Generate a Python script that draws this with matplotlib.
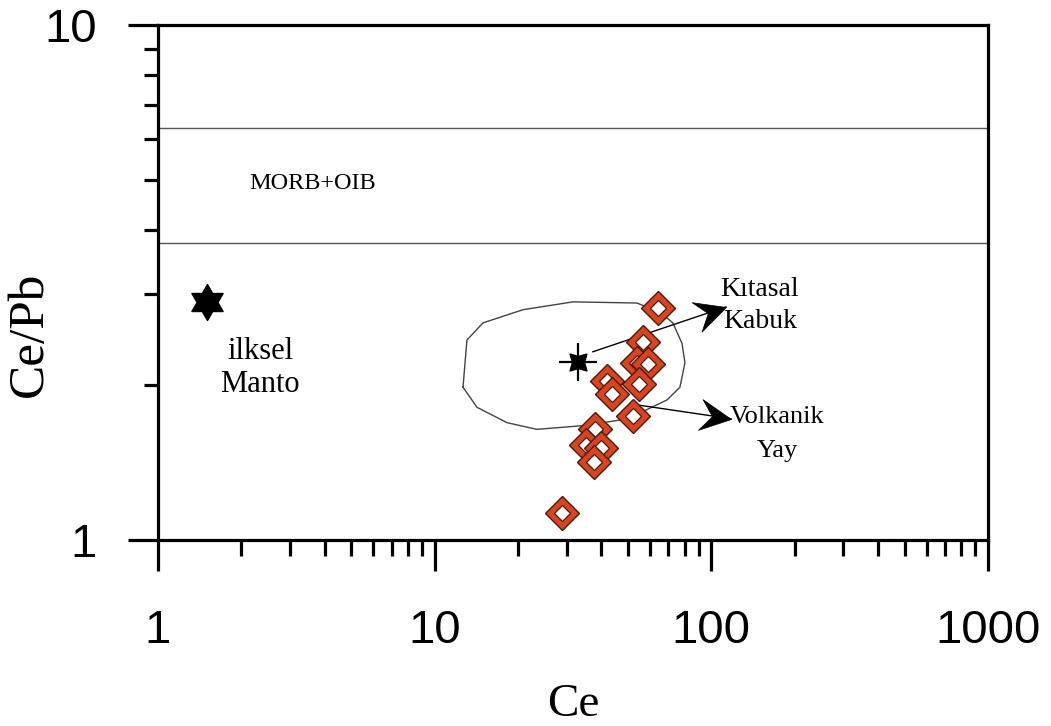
import numpy as np
import matplotlib
matplotlib.use('Agg')
import matplotlib.pyplot as plt
from matplotlib.path import Path
from matplotlib.markers import MarkerStyle
from matplotlib.transforms import Affine2D
from matplotlib.ticker import LogLocator, NullFormatter, FixedLocator, FixedFormatter

# ---------------- data ----------------
ce = [64.1, 56.6, 53.8, 59.0, 54.7, 42.0, 43.7, 52.1, 38.0, 35.2, 39.9, 37.6, 28.8]
ce_pb = [2.82, 2.42, 2.21, 2.20, 2.01, 2.04, 1.92, 1.74, 1.64, 1.53, 1.51, 1.42, 1.13]

mantle_ce, mantle_cepb = 1.50, 2.90          # ilksel Manto
crust_ce, crust_cepb = 32.9, 2.22            # star inside field
morb_oib_bounds = [3.77, 6.30]               # MORB+OIB band

field_ce = [12.66, 13.08, 14.95, 20.85, 31.6, 53.8, 65.2, 72.6, 78.3, 80.3, 77.0,
            69.1, 55.2, 46.7, 35.5, 23.4, 18.25, 14.22, 12.66]
field_cepb = [1.98, 2.445, 2.64, 2.80, 2.90, 2.885, 2.77, 2.64, 2.41, 2.21, 1.98,
              1.87, 1.765, 1.71, 1.67, 1.64, 1.69, 1.81, 1.98]

arrow_kabuk_ce = [37.3, 112.9]
arrow_kabuk_cepb = [2.32, 2.835]
arrow_yay_ce = [53.8, 117.7]
arrow_yay_cepb = [1.83, 1.72]

x_ticks = [1, 10, 100, 1000]
x_labels = ['1', '10', '100', '1000']
y_ticks = [1, 10]
y_labels = ['1', '10']

# ---------------- figure ----------------
W, H = 1051, 726
fig = plt.figure(figsize=(W / 100, H / 100), dpi=100)
fig.patch.set_facecolor('white')
ax = fig.add_axes([158 / W, 1 - 540 / H, (988 - 158) / W, (540 - 25) / H])
ax.set_xscale('log')
ax.set_yscale('log')
ax.set_xlim(1, 1000)
ax.set_ylim(1, 10)

px = 0.72  # points per pixel
for s in ax.spines.values():
    s.set_linewidth(2.3)
    s.set_color('black')

ax.xaxis.set_major_locator(FixedLocator(x_ticks))
ax.xaxis.set_major_formatter(FixedFormatter(x_labels))
ax.yaxis.set_major_locator(FixedLocator(y_ticks))
ax.yaxis.set_major_formatter(FixedFormatter(y_labels))
ax.xaxis.set_minor_locator(LogLocator(base=10, subs=np.arange(2, 10)))
ax.yaxis.set_minor_locator(LogLocator(base=10, subs=np.arange(2, 10)))
ax.xaxis.set_minor_formatter(NullFormatter())
ax.yaxis.set_minor_formatter(NullFormatter())

ax.tick_params(axis='x', which='major', direction='out', length=31 * px, width=2.3,
               pad=38 * px, labelsize=34)
ax.tick_params(axis='x', which='minor', direction='out', length=16 * px, width=2.3)
ax.tick_params(axis='y', which='major', direction='out', length=30 * px, width=2.3,
               pad=31 * px, labelsize=34)
ax.tick_params(axis='y', which='minor', direction='out', length=14 * px, width=2.3)
for lab in ax.get_xticklabels() + ax.get_yticklabels():
    lab.set_fontfamily('Liberation Sans')

serif = 'Liberation Serif'

# MORB+OIB band lines
for yv in morb_oib_bounds:
    ax.axhline(yv, color='#555555', lw=1.0, zorder=1)

# field outline
ax.plot(field_ce, field_cepb, color='#444444', lw=1.0, zorder=2)

# arrows (line + stealth head)
stealth = Path([(0, 0), (-1, 0.5), (-0.62, 0), (-1, -0.5), (0, 0)],
               [Path.MOVETO, Path.LINETO, Path.LINETO, Path.LINETO, Path.CLOSEPOLY])
for xs, ys in [(arrow_kabuk_ce, arrow_kabuk_cepb), (arrow_yay_ce, arrow_yay_cepb)]:
    ax.plot(xs, ys, color='black', lw=1.0, zorder=3)
    p0 = ax.transData.transform((xs[0], ys[0]))
    p1 = ax.transData.transform((xs[1], ys[1]))
    ang = np.degrees(np.arctan2(p1[1] - p0[1], p1[0] - p0[0]))
    m = MarkerStyle(stealth, transform=Affine2D().rotate_deg(ang))
    ax.plot([xs[1]], [ys[1]], marker=m, ms=62 * px, color='black', mew=0.5, zorder=3,
            linestyle='none')

# crust star (asterisk-like)
ax.plot([crust_ce], [crust_cepb], marker='+', ms=38 * px, mew=1.6, color='black', zorder=4,
        linestyle='none')
ax.plot([crust_ce], [crust_cepb], marker=(4, 1, 45), ms=24 * px, color='black', zorder=4,
        linestyle='none')

# primitive mantle hexagram
ang = np.radians(90 + 30 * np.arange(12))
rad = np.where(np.arange(12) % 2 == 0, 1.0, 1 / np.sqrt(3))
hexverts = list(zip(rad * np.cos(ang), rad * np.sin(ang)))
hexverts.append(hexverts[0])
hexpath = Path(hexverts, closed=True)
ax.plot([mantle_ce], [mantle_cepb], marker=hexpath, ms=36 * px, color='black', zorder=4,
        linestyle='none')

# samples: hollow orange diamonds
z = 5
for xv, yv in zip(ce, ce_pb):
    ax.plot([xv], [yv], marker='D', ms=24 * px, mfc='#d9441f', mec='#4a1a0c', mew=1.0,
            linestyle='none', zorder=z)
    ax.plot([xv], [yv], marker='D', ms=11.5 * px, mfc='white', mec='#4a1a0c', mew=0.9,
            linestyle='none', zorder=z + 0.5)
    z += 1

# annotations
ax.text(3.63, 4.80, 'MORB+OIB', family=serif, fontsize=17.5, ha='center', va='baseline')
ax.text(2.34, 2.246, 'ilksel', family=serif, fontsize=22, ha='center', va='baseline')
ax.text(2.34, 1.939, 'Manto', family=serif, fontsize=22, ha='center', va='baseline')
ax.text(149.9, 2.98, 'Kıtasal', family=serif, fontsize=20, ha='center', va='baseline')
ax.text(149.9, 2.58, 'Kabuk', family=serif, fontsize=20, ha='center', va='baseline')
ax.text(172.6, 1.687, 'Volkanik', family=serif, fontsize=19, ha='center', va='baseline')
ax.text(172.6, 1.45, 'Yay', family=serif, fontsize=19, ha='center', va='baseline')

# axis titles
fig.text(30 / W, 1 - 334 / H, 'Ce/Pb', family=serif, fontsize=37, rotation=90,
         ha='center', va='center')
fig.text(573 / W, 1 - 705 / H, 'Ce', family=serif, fontsize=34, ha='center', va='center')

fig.savefig('out.png', dpi=100, facecolor='white')
